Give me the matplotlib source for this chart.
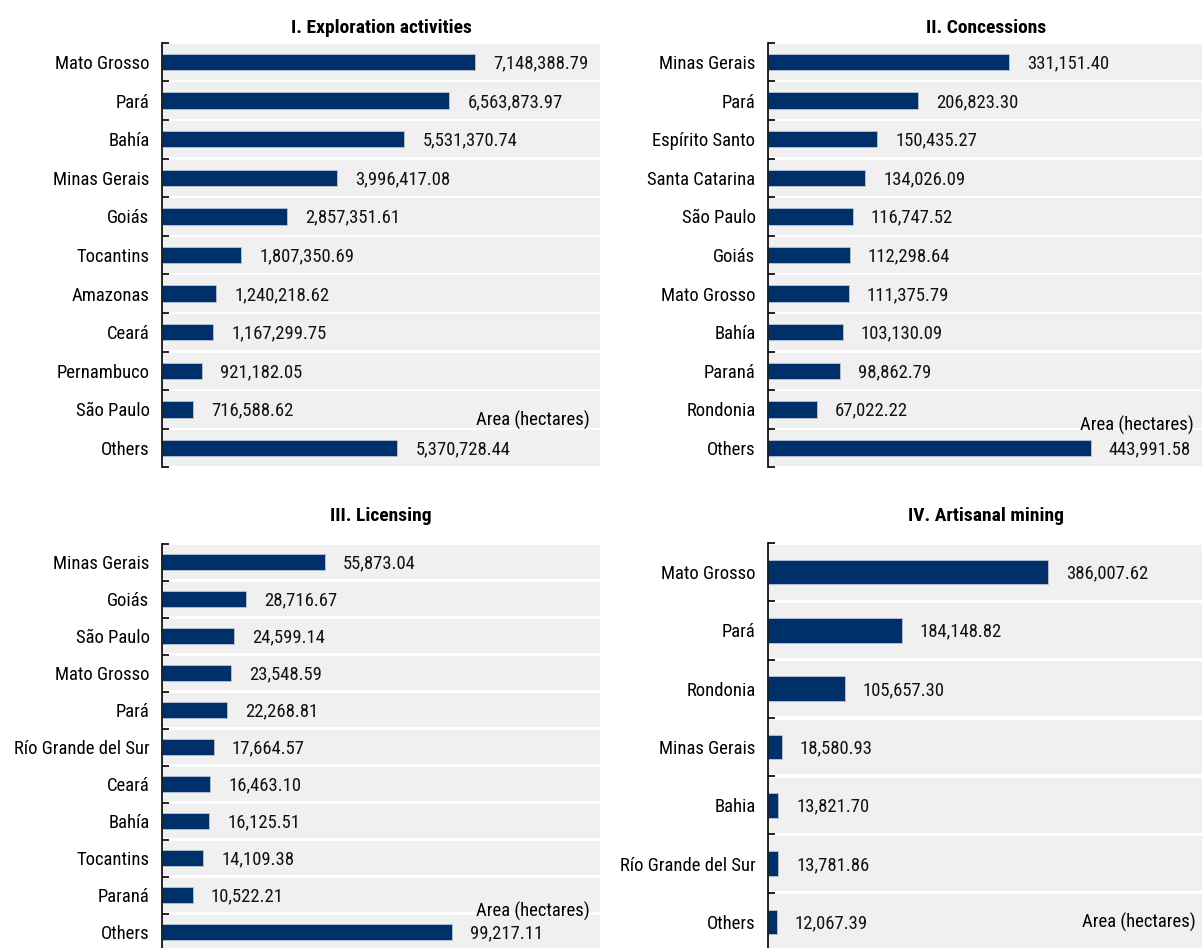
import matplotlib
matplotlib.use("Agg")
import matplotlib.pyplot as plt

plt.rcParams["font.family"] = ["Roboto Condensed", "Liberation Sans", "DejaVu Sans"]

# Data
expl_states = ["Mato Grosso", "Pará", "Bahía", "Minas Gerais", "Goiás", "Tocantins",
               "Amazonas", "Ceará", "Pernambuco", "São Paulo", "Others"]
expl_area = [7148388.79, 6563873.97, 5531370.74, 3996417.08, 2857351.61, 1807350.69,
             1240218.62, 1167299.75, 921182.05, 716588.62, 5370728.44]

conc_states = ["Minas Gerais", "Pará", "Espírito Santo", "Santa Catarina", "São Paulo", "Goiás",
               "Mato Grosso", "Bahía", "Paraná", "Rondonia", "Others"]
conc_area = [331151.40, 206823.30, 150435.27, 134026.09, 116747.52, 112298.64,
             111375.79, 103130.09, 98862.79, 67022.22, 443991.58]

lic_states = ["Minas Gerais", "Goiás", "São Paulo", "Mato Grosso", "Pará", "Río Grande del Sur",
              "Ceará", "Bahía", "Tocantins", "Paraná", "Others"]
lic_area = [55873.04, 28716.67, 24599.14, 23548.59, 22268.81, 17664.57,
            16463.10, 16125.51, 14109.38, 10522.21, 99217.11]

art_states = ["Mato Grosso", "Pará", "Rondonia", "Minas Gerais", "Bahia", "Río Grande del Sur", "Others"]
art_area = [386007.62, 184148.82, 105657.30, 18580.93, 13821.70, 13781.86, 12067.39]

titles = ["I. Exploration activities", "II. Concessions", "III. Licensing", "IV. Artisanal mining"]

W, H = 1202, 948
fig = plt.figure(figsize=(W / 100, H / 100), dpi=100)

BAR = "#00306A"
BAND = "#F0F0F0"
FS = 13.4


def px_axes(left, top, right, bottom):
    return fig.add_axes([left / W, 1 - bottom / H, (right - left) / W, (bottom - top) / H])


def panel(ax, states, values, xmax, title, title_y, note_y, note_x_frac):
    n = len(states)
    ax.set_xlim(0, xmax)
    ax.set_ylim(n - 0.5, -0.5)
    ax.set_facecolor("white")
    for i in range(n):
        ax.axhspan(i - 0.5 + 0.03, i + 0.5 - 0.03, color=BAND, zorder=0, lw=0)
    ys = list(range(n))
    ax.barh(ys, values, height=0.42, color=BAR, edgecolor="#B8C4D8", linewidth=0.6, zorder=2)
    for y, v in zip(ys, values):
        ax.annotate(f"{v:,.2f}", (v, y), xytext=(13, -1), textcoords="offset points",
                    ha="left", va="center", fontsize=FS, color="#111111")
    ax.set_yticks(ys)
    ax.set_yticklabels(states, fontsize=FS)
    ax.set_yticks([i - 0.5 for i in range(n + 1)], minor=True)
    ax.tick_params(axis="y", which="major", length=0, pad=9)
    ax.tick_params(axis="y", which="minor", length=5, width=1.2, direction="in")
    ax.set_xticks([])
    for s in ["top", "right", "bottom"]:
        ax.spines[s].set_visible(False)
    ax.spines["left"].set_linewidth(1.2)
    ax.set_title(title, fontsize=14, fontweight="bold", pad=0, y=title_y)
    ax.text(note_x_frac, note_y, "Area (hectares)", transform=ax.transAxes,
            ha="right", va="center", fontsize=FS)


ax1 = px_axes(162, 42.7, 600, 467.3)
panel(ax1, expl_states, expl_area, 10_000_000, titles[0], 1.023, 0.111, 0.977)

ax2 = px_axes(768, 42.7, 1204, 467.3)
panel(ax2, conc_states, conc_area, 600_000, titles[1], 1.023, 0.099, 0.977)

ax3 = px_axes(162, 543.5, 600, 950.5)
panel(ax3, lic_states, lic_area, 150_000, titles[2], 1.055, 0.095, 0.977)

ax4 = px_axes(768, 543, 1204, 951)
panel(ax4, art_states, art_area, 600_000, titles[3], 1.055, 0.07, 0.982)

fig.savefig("out.png", dpi=100)
